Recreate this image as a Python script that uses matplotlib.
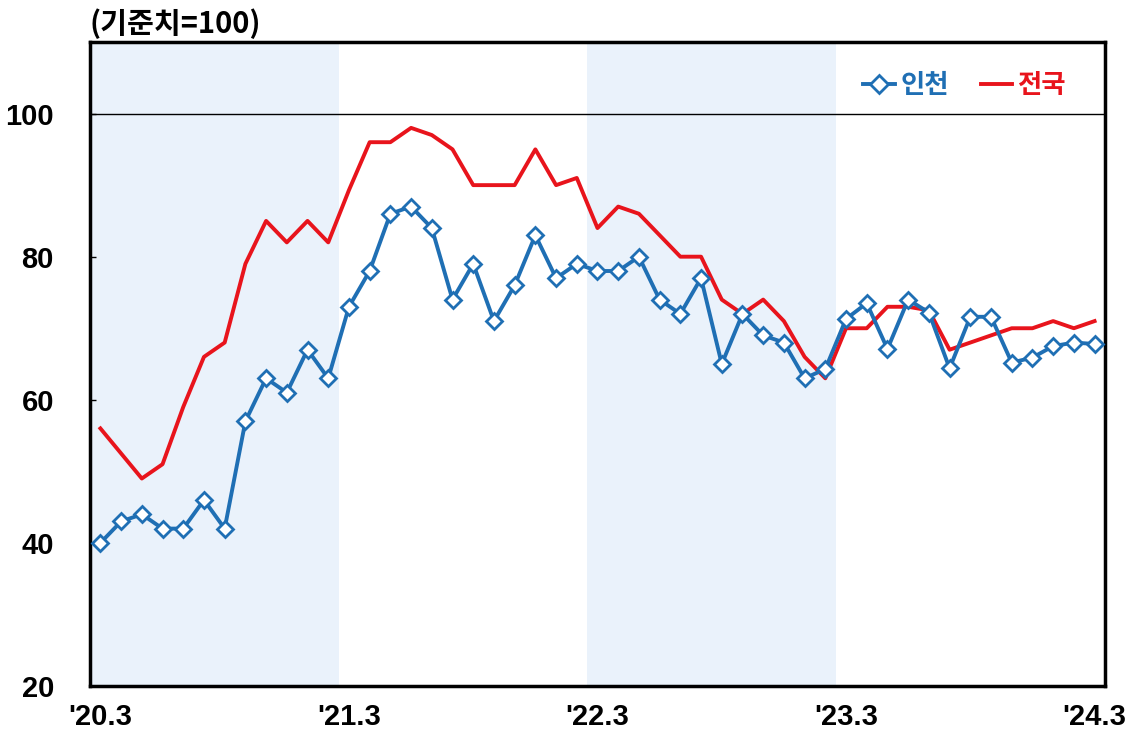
import matplotlib
matplotlib.use("Agg")
import matplotlib.pyplot as plt
from matplotlib.lines import Line2D

plt.rcParams['font.family'] = ['Liberation Sans', 'Noto Sans CJK KR', 'DejaVu Sans']

incheon = [40, 43, 44, 42, 42, 46, 42, 57, 63, 61, 67, 63,
           73, 78, 86, 87, 84, 74, 79, 71, 76, 83, 77, 79,
           78, 78, 80, 74, 72, 77, 65, 72, 69, 68, 63, 64.3,
           71.3, 73.5, 67.1, 74, 72.2, 64.4, 71.6, 71.6, 65.2, 65.9, 67.5, 68, 67.8]
national = [56, 52.5, 49, 51, 59, 66, 68, 79, 85, 82, 85, 82,
            89.3, 96, 96, 98, 97, 95, 90, 90, 90, 95, 90, 91,
            84, 87, 86, 83, 80, 80, 74, 72, 74, 71, 66, 63,
            70, 70, 73, 73, 72.5, 67, 68, 69, 70, 70, 71, 70, 71]
tick_labels = ["'20.3", "'21.3", "'22.3", "'23.3", "'24.3"]
series_names = ["인천", "전국"]

blue = '#1f6fb4'
red = '#e8141c'

fig = plt.figure(figsize=(11.37, 7.32), dpi=100)
ax = fig.add_axes([0.0792, 0.0628, 0.8926, 0.8798])

x = list(range(len(incheon)))
ax.axvspan(-0.5, 11.5, color='#eaf2fb', zorder=0, lw=0)
ax.axvspan(23.5, 35.5, color='#eaf2fb', zorder=0, lw=0)
ax.axhline(100, color='black', lw=1.0, zorder=1)

ax.plot(x, national, color=red, lw=2.8, zorder=2)
ax.plot(x, incheon, color=blue, lw=2.8, marker='D', markersize=8.5,
        markerfacecolor='white', markeredgecolor=blue, markeredgewidth=2.0, zorder=3)

ax.set_xlim(-0.5, 48.5)
ax.set_ylim(20, 110)
ax.set_yticks([20, 40, 60, 80, 100])
ax.set_yticklabels(['20', '40', '60', '80', '100'], fontsize=21, fontweight='bold')
ax.set_xticks([0, 12, 24, 36, 48])
ax.set_xticklabels(tick_labels, fontsize=21, fontweight='bold')
ax.tick_params(axis='y', direction='in', length=4, pad=26, width=1)
ax.tick_params(axis='x', length=0, pad=12)
for s in ax.spines.values():
    s.set_linewidth(2.5)
    s.set_color('black')

handles = [Line2D([], [], color=blue, lw=2.8, marker='D', markersize=9,
                  markerfacecolor='white', markeredgecolor=blue, markeredgewidth=2.0),
           Line2D([], [], color=red, lw=2.8)]
leg = ax.legend(handles, series_names, loc='upper right', bbox_to_anchor=(0.985, 0.99),
                ncol=2, frameon=False, handlelength=1.2, handletextpad=0.2,
                columnspacing=1.2, prop={'family': ['Noto Sans CJK KR'], 'weight': 'bold', 'size': 19},
                labelcolor=[blue, red])

fig.text(0.079, 0.968, '(기준치=100)', fontsize=21, fontweight='bold',
         family=['Noto Sans CJK KR', 'DejaVu Sans'], va='center', ha='left')

fig.savefig('out.png', dpi=100)
